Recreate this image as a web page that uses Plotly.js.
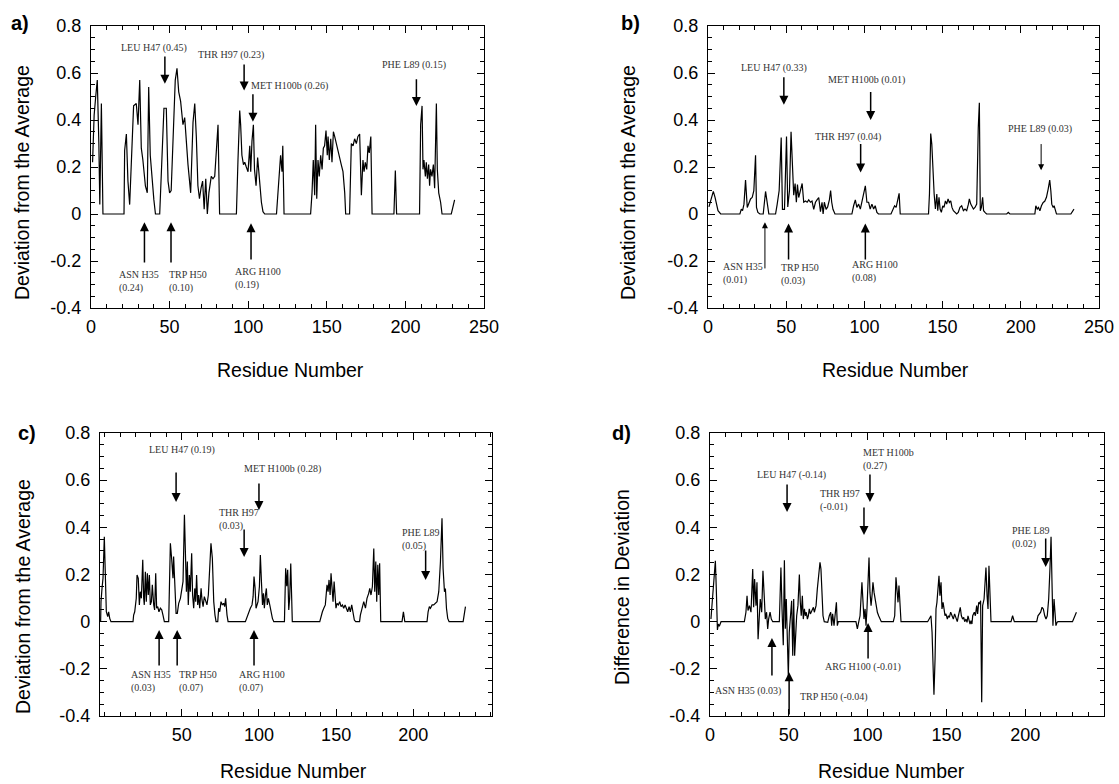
<!DOCTYPE html>
<html><head><meta charset="utf-8">
<script src="https://cdn.plot.ly/plotly-3.0.1.min.js"></script>
<style>html,body{margin:0;padding:0;background:#fff}#chart{width:1119px;height:784px}</style>
</head><body><div id="chart"></div>
<script>
// ---------- DATA: [residue, value] ----------
const devA = [[1,0.22],[2,0.42],[3,0.5],[4,0.57],[5,0.3],[5.6,0.04],[6.6,0.47],[7.6,0],
[21,0],[21.4,0.27],[22.5,0.34],[23.5,0.14],[24.6,0.04],[25.7,0.25],[27.1,0.46],[28.8,0.47],[29.9,0.38],[31,0.57],[32,0.28],[33,0.23],[34.6,0.12],[35.8,0.09],[36.7,0.54],[37.7,0.25],[38.8,0.15],[40,0.06],[41,0],
[43.7,0],[46.4,0.45],[47.9,0.45],[49,0.14],[50,0.09],[51,0.1],[52.8,0.49],[53.6,0.57],[54.7,0.62],[55.8,0.52],[57,0.48],[58.5,0.38],[59.6,0.41],[60.6,0.31],[61.7,0.21],[63.4,0.09],[64.9,0.39],[66,0.47],[67,0.33],[68,0.12],[69,0.065],[70,0.11],[71,0.14],[72,0.02],[73,0.15],[74,0],[75,0.09],[76.5,0.16],[77.6,0.15],[78.7,0.16],[79.7,0.27],[80.8,0.38],[81.8,0],
[92.5,0],[93.5,0.23],[94.6,0.44],[95.2,0.38],[96,0.25],[97,0.21],[97.8,0.22],[98.8,0.2],[99.9,0.18],[101,0.29],[101.6,0.18],[102.4,0.31],[103.3,0.38],[104,0.19],[105,0.12],[106,0.24],[107.3,0.13],[108.4,0.05],[109.4,0.01],[110.5,0],
[118,0],[119,0.09],[120,0.2],[120.6,0.25],[121.5,0.18],[122,0.29],[122.8,0],
[139.7,0],[140.6,0.09],[141.4,0.23],[142.3,0.08],[142.9,0.38],[143.6,0.065],[144.4,0.23],[145.2,0.16],[146.1,0.25],[147,0.19],[147.8,0.28],[148.6,0.29],[149.5,0.355],[150.3,0.25],[150.8,0.33],[151.6,0.23],[152.5,0.32],[153.3,0.22],[154.2,0.35],[155,0.33],[155.8,0.305],[156.7,0.28],[157.5,0.25],[158.4,0.23],[159.2,0.21],[160.3,0.18],[161.4,0.09],[162,0],
[164.5,0],[165.6,0.3],[166.7,0.29],[167.7,0.32],[168.8,0.3],[169.8,0.33],[170.9,0.34],[172,0.08],[173,0.23],[173.7,0.18],[174.5,0.22],[175.4,0.19],[176.2,0.29],[177,0.26],[178,0.33],[178.8,0],
[192.7,0],[193.6,0.185],[194.4,0],
[209,0],[209.7,0.38],[210.6,0.46],[211.2,0.19],[211.8,0.23],[212.7,0.16],[213.3,0.22],[214,0.15],[214.8,0.21],[215.4,0.12],[216,0.19],[216.9,0.16],[217.8,0.21],[218.6,0.11],[219.7,0.47],[220.3,0.19],[221.2,0.09],[222.4,0.05],[223.3,0],
[229.2,0],[231.3,0.06]];

const devB = [[0.6,0.03],[2.1,0.064],[3.4,0.096],[4.5,0.071],[5.3,0.049],[6.4,0.014],[8.1,0],
[20.4,0],[21.3,0.021],[22.1,0.014],[23,0.042],[24,0.144],[25.1,0.028],[26.1,0.042],[27.2,0.064],[28.3,0.071],[29.3,0.099],[30.4,0.25],[31,0.028],[31.9,0.007],[33.2,0],[35.3,0],[36.8,0.096],[38.9,0],
[43.2,0],[44.2,0.04],[45.5,0.1],[46.8,0.325],[47.6,0.02],[48.9,0.02],[50.2,0.33],[51,0.03],[52.1,0.1],[53.1,0.35],[54,0.17],[54.8,0.08],[55.7,0.13],[56.5,0.05],[57.2,0.125],[58,0.07],[59.1,0.1],[60.2,0.13],[61.2,0.05],[62.3,0.055],[63.4,0.05],[64.4,0.06],[65.5,0.05],[66.5,0.055],[67.6,0.02],[68.7,0.05],[69.7,0.06],[70.8,0.07],[71.9,0.01],[72.9,0.05],[73.6,0],[74.4,0.05],[75.5,0.02],[76.5,0.03],[77.6,0.06],[78.4,0.1],[79.1,0.05],[79.9,0.02],[81.2,0],
[92,0],[93.1,0.035],[94.2,0.06],[95.2,0.028],[96.3,0.042],[97.4,0.021],[98.4,0.056],[99.5,0.085],[100.6,0.12],[101.6,0.05],[102.7,0.05],[103.7,0.021],[104.8,0.042],[105.9,0.021],[106.9,0.035],[108,0.007],[109,0],
[117,0],[118.2,0.021],[119.3,0.035],[120.3,0.028],[121.2,0.064],[122.2,0.088],[122.9,0],
[141,0],[141.6,0.085],[142.4,0.342],[143.1,0.297],[143.7,0.198],[144.6,0.085],[145.4,0.021],[146.3,0.085],[146.9,0.014],[147.7,0.071],[148.4,0.021],[149.2,0.007],[150.1,0.035],[150.9,0.028],[151.8,0.056],[152.6,0.042],[153.5,0.064],[154.3,0.049],[155.2,0.056],[156,0.028],[156.9,0.014],[157.9,0.007],[159,0],[160,0.007],[161.1,0.028],[162.2,0.035],[163.3,0.014],[164.3,0.021],[165.4,0.014],[166.5,0.042],[167.1,0.064],[168,0.042],[168.8,0.028],[169.7,0.021],[170.7,0.028],[171.8,0.042],[172.8,0.367],[173.5,0.473],[174.1,0.014],[174.8,0.028],[175.6,0.071],[176.2,0.014],[177.1,0.007],[178.1,0],
[191,0],[192,0.007],[193,0],
[209,0],[209.6,0.035],[210.5,0.021],[211.3,0.028],[212.2,0.014],[213.2,0.035],[214.3,0.049],[215.3,0.054],[216.4,0.071],[217.5,0.106],[218.5,0.144],[219.2,0.099],[219.8,0.042],[220.7,0.028],[221.3,0.035],[222.2,0.014],[222.8,0],
[232,0],[234,0.021]];

const devC = [[-2.6,0],[-2.35,0.085],[-1.7,0.141],[-1.05,0.184],[-0.2,0.36],[0.46,0.198],[1.1,0.042],[2,0.021],[2.6,0.042],[3.3,0.014],[4.1,0],
[18.4,0],[18.8,0.028],[19.5,0.042],[20.5,0.099],[21,0.198],[21.8,0.184],[22.5,0.071],[23.1,0.127],[23.8,0.099],[24.7,0.262],[25.3,0.099],[25.7,0.071],[26.4,0.212],[27,0.085],[27.7,0.205],[28.3,0.113],[29,0.198],[29.6,0.071],[30.3,0.085],[30.9,0.156],[31.8,0.071],[32.4,0.05],[33.1,0.205],[33.7,0.057],[34.4,0.064],[35.2,0.042],[36.1,0.057],[37,0.05],[37.8,0.028],[38.7,0],
[41.5,0],[42.6,0.332],[43.4,0.269],[44.3,0.184],[44.7,0.276],[45.4,0.127],[46.3,0.035],[47.1,0.035],[48,0.078],[49.1,0.099],[49.9,0.127],[50.8,0.17],[51.7,0.453],[52.3,0.226],[53,0.127],[53.6,0.255],[54.2,0.071],[54.9,0.198],[55.5,0.127],[56.4,0.29],[57,0.113],[57.7,0.057],[58.4,0.141],[59,0.085],[59.6,0.198],[60.3,0.071],[60.9,0.113],[61.6,0.057],[62.5,0.141],[63.1,0.092],[63.8,0.064],[64.6,0.106],[65.5,0.085],[66.3,0.071],[67.2,0.113],[68.1,0.226],[68.9,0.332],[69.8,0.269],[70.7,0.085],[71.5,0.028],[72.2,0],
[73.3,0],[73.9,0.057],[74.6,0.042],[75.4,0.085],[76.3,0.071],[77.1,0.078],[77.8,0.064],[78.4,0.099],[79.3,0.028],[80,0],
[91.2,0],[92.3,0.021],[93.3,0.035],[94.4,0.057],[95.5,0.071],[96.2,0.106],[96.8,0.191],[97.5,0.141],[98.1,0.057],[98.8,0.071],[99.4,0.085],[100.3,0.149],[100.9,0.283],[101.6,0.17],[102.3,0.071],[102.9,0.12],[103.5,0.057],[104.2,0.113],[104.8,0.141],[105.4,0.071],[106.1,0.099],[107,0.071],[107.8,0.042],[108.7,0.014],[109.6,0],
[116.5,0],[117.3,0.226],[118,0.15],[118.6,0.22],[119.3,0.05],[119.9,0.1],[120.6,0.247],[121.2,0.1],[121.6,0],
[139.4,0],[140.3,0.028],[141.1,0.042],[142,0.057],[143,0.071],[144.1,0.156],[144.8,0.127],[145.4,0.177],[146.1,0.113],[146.7,0.205],[147.4,0.127],[148,0.085],[148.7,0.17],[149.3,0.085],[149.9,0.057],[150.6,0.078],[151.5,0.071],[152.3,0.085],[153.2,0.064],[154.1,0.071],[154.9,0.057],[155.8,0.071],[156.6,0.057],[157.5,0.042],[158.4,0.064],[159.2,0.042],[160.1,0.071],[161,0.028],[161.8,0.007],[162.7,0],
[165.2,0],[165.7,0.028],[166.8,0.064],[167.9,0.085],[169,0.057],[170,0.099],[171.1,0.12],[171.8,0.141],[172.6,0.113],[173.5,0.149],[174.4,0.31],[175,0.127],[175.7,0.255],[176.3,0.085],[177,0.241],[177.6,0.113],[178.2,0.248],[178.9,0],
[192.7,0],[193.6,0.042],[194.5,0],
[208.9,0],[209.6,0.042],[210.4,0.064],[211.1,0.057],[212.2,0.071],[213.2,0.071],[214.3,0.078],[215.4,0.085],[216.5,0.127],[217.6,0.255],[218.6,0.438],[219.3,0.226],[220.2,0.127],[220.8,0.141],[221.5,0.057],[222.3,0.014],[223.2,0],
[232.3,0],[233.8,0.064]];

const diffD = [[0.6,0.011],[1.7,0.11],[2.7,0.195],[3.4,0.258],[4,0.139],[4.7,-0.035],[5.3,-0.01],[5.9,-0.02],[7,0],
[21.8,0],[22.8,0.04],[23.5,0.11],[24.1,0.047],[25,0.068],[26,0.04],[27.1,0.223],[27.7,0.061],[28.3,0.181],[29.2,0.068],[29.8,0.167],[30.5,-0.074],[31.3,0.054],[31.9,0.096],[32.8,0.04],[33.6,0.216],[34.5,0.096],[35.1,0.011],[35.9,0.04],[36.6,-0.031],[37.2,0.011],[38.1,0.04],[38.9,0.011],[39.8,0],
[44,0],[45,0.23],[45.7,0.054],[46.5,-0.1],[47.2,0.26],[47.8,-0.03],[48.4,0.096],[49.1,-0.116],[49.7,-0.23],[50.3,-0.045],[51.2,0.068],[51.8,0.089],[52.5,-0.144],[53.1,0.096],[53.7,-0.144],[54.4,-0.045],[55,0.025],[55.8,0.068],[56.7,0.2],[57.3,0.082],[57.9,0.025],[58.6,0.11],[59.2,0.011],[59.9,0.054],[60.5,0.025],[61.1,0.04],[61.8,0.011],[62.4,0.025],[63,0.054],[63.7,0.033],[64.3,0.04],[64.9,0.047],[65.6,0.061],[66.2,0.04],[67.3,0.068],[68.1,0.139],[69,0.209],[69.8,0.252],[70.4,0.223],[71.1,0.124],[71.7,0.025],[72.5,0],
[74.7,-0.003],[75.7,0.025],[76.6,0.04],[77.2,-0.017],[77.8,0.033],[78.7,-0.017],[79.5,0.04],[80.2,0.082],[80.8,-0.017],[81.4,0],
[92.6,0],[93.5,-0.031],[94.3,-0.003],[95.2,0.025],[95.8,0.096],[96.4,0.167],[97.1,0.082],[97.7,0.011],[98.4,0.054],[99,-0.017],[99.6,0.054],[100.3,0.167],[100.9,0.272],[101.5,0.124],[102.2,0.068],[102.8,0.11],[103.4,0.167],[104.1,0.124],[104.7,0.096],[105.3,0.082],[106.2,0.04],[107,0.025],[107.9,0.011],[108.7,0],
[116.3,0],[117.2,0.025],[118,0.188],[118.7,0.124],[119.3,0.082],[119.9,0.153],[120.6,0.068],[121.2,0],
[138.1,0],[139.2,0.011],[140.2,0.025],[140.9,-0.045],[141.5,-0.158],[142.1,-0.31],[142.8,-0.158],[143.4,0.054],[144,0.082],[144.7,0.139],[145.3,0.195],[145.9,0.11],[146.6,0.167],[147.2,0.054],[147.9,0.082],[148.5,0.054],[149.1,0.025],[149.7,0.033],[150.6,0.011],[151.2,0.025],[151.9,0.018],[152.7,0.04],[153.5,0.025],[154.4,0.011],[155.2,0.033],[156.1,0.011],[156.9,0],[157.6,0.025],[158.2,0.04],[158.8,0.061],[159.5,0.025],[160.3,0.011],[161,0.018],[161.6,0],[162.4,0.011],[163.1,-0.003],[163.7,0.025],[164.3,0.011],[165,-0.01],[165.6,0.004],[166.2,-0.01],
[166.7,0.025],[167.7,0.04],[168.4,0.025],[169.2,0.068],[169.8,0.033],[170.5,0.082],[171.1,0.075],[171.7,0.089],[172.4,-0.342],[173,0.068],[173.9,0.096],[174.5,0.167],[175.1,0.23],[175.8,0.11],[176.4,0.054],[177,0.237],[177.7,0.139],[178.3,0],
[191,0],[192,0.025],[193.1,0],
[207.3,0],[208.1,0.025],[209,0.033],[209.8,0.04],[210.7,0.061],[211.5,0.054],[212.4,0.025],[213.2,0.011],[214,0.025],[214.9,0.096],[215.7,0.223],[216.4,0.36],[217,0.167],[217.6,-0.017],[218.3,0.096],[218.9,0.025],[219.5,-0.017],[220.2,-0.003],[220.8,0],
[230,0],[232.5,0.04]];

const xTickVals = [0,50,100,150,200,250];
const xTickValsC = [50,100,150,200];
const yTickVals = [-0.4,-0.2,0,0.2,0.4,0.6,0.8];
const yTickText = ['-0.4','-0.2','0','0.2','0.4','0.6','0.8'];
const panelLetters = ['a)','b)','c)','d)'];
const yTitles = ['Deviation from the Average','Deviation from the Average','Deviation from the Average','Difference in Deviation'];
const xTitle = 'Residue Number';

const labelsA = ['LEU H47 (0.45)','THR H97 (0.23)','MET H100b (0.26)','PHE L89 (0.15)','ASN H35<br>(0.24)','TRP H50<br>(0.10)','ARG H100<br>(0.19)'];
const labelsB = ['LEU H47 (0.33)','MET H100b (0.01)','THR H97 (0.04)','PHE L89 (0.03)','ASN H35<br>(0.01)','TRP H50<br>(0.03)','ARG H100<br>(0.08)'];
const labelsC = ['LEU H47 (0.19)','MET H100b (0.28)','THR H97<br>(0.03)','PHE L89<br>(0.05)','ASN H35<br>(0.03)','TRP H50<br>(0.07)','ARG H100<br>(0.07)'];
const labelsD = ['LEU H47 (-0.14)','MET H100b<br>(0.27)','THR H97<br>(-0.01)','PHE L89<br>(0.02)','ASN H35 (0.03)','TRP H50 (-0.04)','ARG H100 (-0.01)'];
const arrowResA = [47,97.4,103,207,34,50.9,101.8];
const arrowResB = [48.5,104,97.6,213,36.4,51.5,100.6];
const arrowResC = [46.3,100,90.4,208,35.3,47,96.8];
const arrowResD = [48.9,101.5,97.7,213,39.3,50.2,100.3];

// ---------- LAYOUT ----------
const W = 1119, H = 784;
const frames = [
  {x:[91,484],  y:[26,308],  xr:[0,250]},
  {x:[708,1099],y:[26,308],  xr:[0,250]},
  {x:[100,492], y:[433,716], xr:[-3,251]},
  {x:[710,1104],y:[433,716], xr:[0,250]}
];
// per-callout placement: [tail, head, labelX(px), labelY(px), anchor, width]
const place = [
  [[0.677,0.554,154,48,'center',1.5],[0.643,0.525,231,55,'center',1.5],[0.516,0.393,289,86,'center',1.5],[0.58,0.46,414,65,'center',1.5],
   [-0.213,-0.035,117,281,'left',1.5],[-0.213,-0.035,167,281,'left',1.5],[-0.2,-0.039,233,278,'left',1.5]],
  [[0.588,0.465,774,68,'center',1.5],[0.525,0.40,866,80,'center',1.5],[0.304,0.177,848,137,'center',1.5],[0.304,0.186,1040,129,'center',1],
   [-0.238,-0.035,721,273,'left',1],[-0.2,-0.04,779,274,'left',1.5],[-0.2,-0.04,850,272,'left',1.5]],
  [[0.639,0.507,182,450,'center',1.5],[0.592,0.473,282,469,'center',1.5],[0.397,0.274,217,519,'left',1.5],[0.308,0.177,400,539,'left',1.5],
   [-0.192,-0.035,129,681,'left',1.5],[-0.192,-0.035,177,681,'left',1.5],[-0.192,-0.035,237,681,'left',1.5]],
  [[0.588,0.465,791,475,'center',1.5],[0.63,0.507,861,459,'left',1.5],[0.49,0.367,818,500,'left',1.5],[0.359,0.232,1010,537,'left',1.5],
   [-0.235,-0.069,713,691,'left',1.5],[-0.4,-0.214,798,697,'left',1.5],[-0.163,-0.006,863,667,'center',1.5]]
];
const letterPos = [[20,23],[630,23],[27,433],[621,433]];
const yTitlePos = [[22,183],[628,183],[23,597],[622,587]];
const xTitlePos = [[290,370],[895,370],[293,771],[891,771]];

const series = [devA, devB, devC, diffD];
const labels = [labelsA, labelsB, labelsC, labelsD];
const arrowRes = [arrowResA, arrowResB, arrowResC, arrowResD];

const sans = 'Liberation Sans, Arial, Helvetica, sans-serif';
const serif = 'Liberation Serif, Times New Roman, serif';

const traces = [];
const layout = {
  width: W, height: H, margin: {l:0,r:0,t:0,b:0},
  paper_bgcolor: 'white', plot_bgcolor: 'white', showlegend: false,
  annotations: []
};

function sfx(i){ return i === 0 ? '' : String(i+1); }

series.forEach((pts, i) => {
  const s = sfx(i);
  traces.push({
    x: pts.map(p => p[0]), y: pts.map(p => p[1]),
    xaxis: 'x'+s, yaxis: 'y'+s, type: 'scatter', mode: 'lines',
    line: {color: 'black', width: 1.2}, hoverinfo: 'skip'
  });
  const f = frames[i];
  const common = {
    showline: true, linecolor: 'black', linewidth: 1.2, mirror: 'allticks',
    ticks: 'inside', ticklen: 7, tickwidth: 1, tickcolor: 'black',
    showgrid: false, zeroline: false, fixedrange: true,
    tickfont: {family: sans, size: 18, color: 'black'}
  };
  layout['xaxis'+s] = Object.assign({}, common, {
    domain: [f.x[0]/W, f.x[1]/W], anchor: 'y'+s, range: f.xr,
    tickmode: 'array', tickvals: i === 2 ? xTickValsC : xTickVals,
    ticklabelstandoff: 2,
    minor: {tickmode: 'linear', tick0: 0, dtick: 10, ticks: 'inside', ticklen: 4, tickwidth: 1, tickcolor: 'black', showgrid: false}
  });
  layout['yaxis'+s] = Object.assign({}, common, {
    domain: [1 - f.y[1]/H, 1 - f.y[0]/H], anchor: 'x'+s, range: [-0.4, 0.8],
    tickmode: 'array', tickvals: yTickVals, ticktext: yTickText,
    ticklabelstandoff: 5,
    minor: {tickmode: 'linear', tick0: 0, dtick: 0.05, ticks: 'inside', ticklen: 4, tickwidth: 1, tickcolor: 'black', showgrid: false}
  });

  layout.annotations.push({xref:'paper', yref:'paper', x: letterPos[i][0]/W, y: 1-letterPos[i][1]/H,
    xanchor:'center', yanchor:'middle', showarrow:false, text:'<b>'+panelLetters[i]+'</b>',
    font:{family:sans, size:20, color:'black'}});
  layout.annotations.push({xref:'paper', yref:'paper', x: yTitlePos[i][0]/W, y: 1-yTitlePos[i][1]/H,
    xanchor:'center', yanchor:'middle', showarrow:false, textangle:-90, text: yTitles[i],
    font:{family:sans, size:19.5, color:'black'}});
  layout.annotations.push({xref:'paper', yref:'paper', x: xTitlePos[i][0]/W, y: 1-xTitlePos[i][1]/H,
    xanchor:'center', yanchor:'middle', showarrow:false, text: xTitle,
    font:{family:sans, size:19.5, color:'black'}});

  labels[i].forEach((txt, k) => {
    const p = place[i][k];
    layout.annotations.push({xref:'x'+s, yref:'y'+s, axref:'x'+s, ayref:'y'+s,
      x: arrowRes[i][k], y: p[1], ax: arrowRes[i][k], ay: p[0], text: '',
      showarrow: true, arrowhead: 2, arrowsize: 1.2, arrowwidth: p[5], arrowcolor: 'black', standoff: 0});
    layout.annotations.push({xref:'paper', yref:'paper', x: p[2]/W, y: 1-p[3]/H,
      xanchor: p[4], yanchor: 'middle', showarrow: false, text: txt, align: 'left',
      font:{family: serif, size: 10, color: '#333'}});
  });
});

Plotly.newPlot('chart', traces, layout, {staticPlot: true, displayModeBar: false});
</script>
</body></html>
